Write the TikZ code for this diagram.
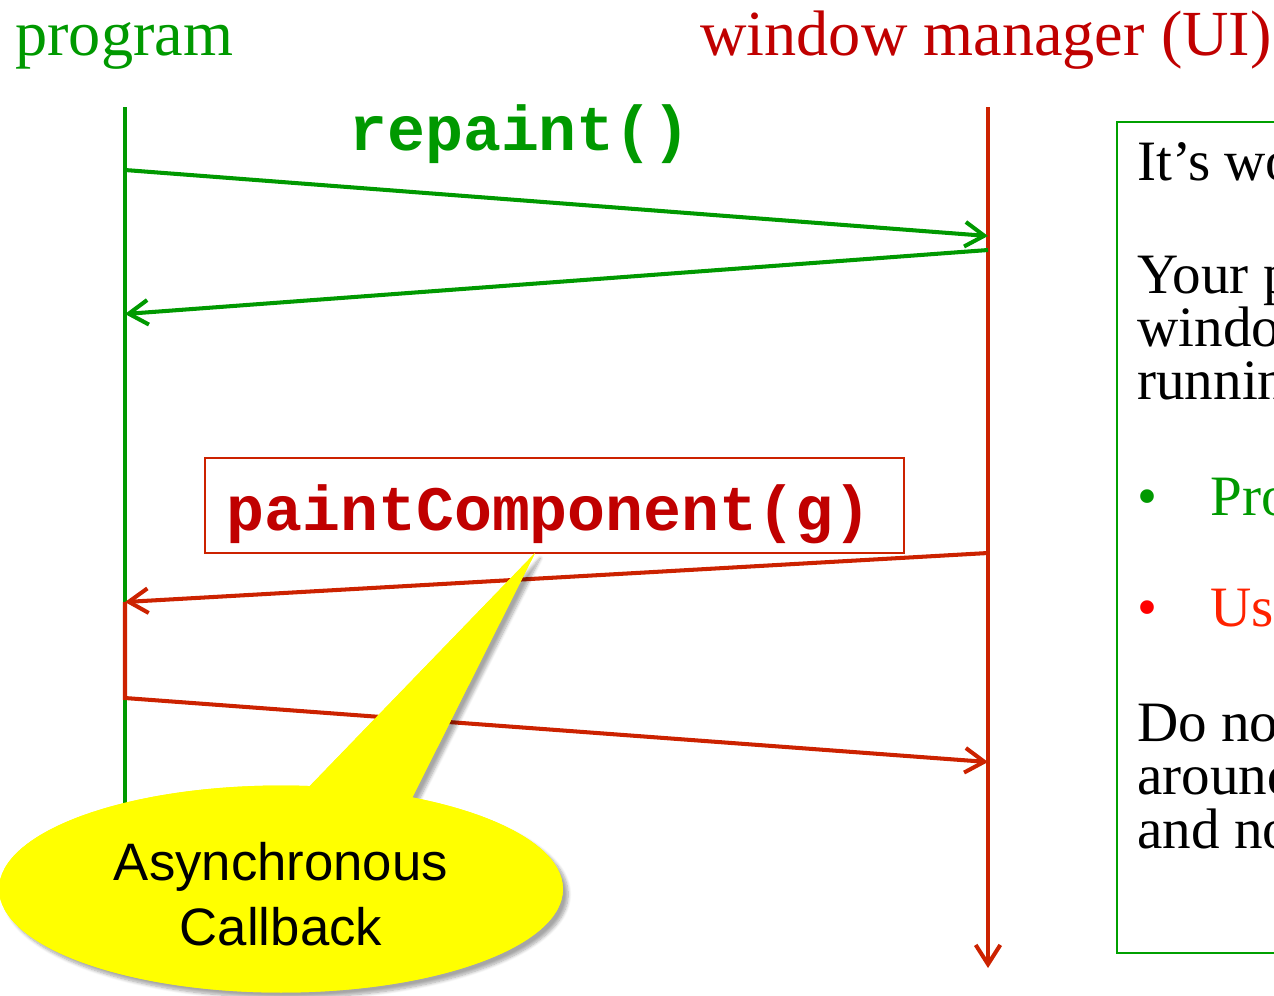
\documentclass[tikz,border=0pt]{standalone}
\usepackage{fontspec}
\setmainfont{Liberation Serif}
\setsansfont{Liberation Sans}
\setmonofont{Liberation Mono}
\usetikzlibrary{arrows.meta,shadows.blur}
\definecolor{pgreen}{HTML}{009900}
\definecolor{bgreen}{HTML}{00A000}
\definecolor{wmred}{HTML}{C00000}
\definecolor{lred}{HTML}{CC2200}
\definecolor{bred}{HTML}{FF2200}
\definecolor{cyellow}{HTML}{FFFF00}
\tikzset{
  head/.style={font=\fontsize{36.6}{40}\selectfont, inner sep=0pt},
  code/.style={font=\ttfamily\bfseries\fontsize{36}{40}\selectfont, inner sep=0pt},
  body/.style={font=\fontsize{32.5}{36}\selectfont, inner sep=0pt, anchor=base west},
  gline/.style={draw=pgreen, line width=2.3pt},
  rline/.style={draw=lred, line width=2.3pt},
  arr/.style={-{Straight Barb[length=11pt,width=14pt]}},
}
\begin{document}
\begin{tikzpicture}[x=0.02cm,y=-0.02cm]
\useasboundingbox (0,0) rectangle (1274,995);
\clip (0,0) rectangle (1274,995);
% titles
\node[head, text=pgreen, anchor=base west] (prog) at (15,55) {program};
\node[head, text=wmred, anchor=base east] (wm) at (1272,55) {window manager (UI)};
% lifelines
\coordinate (gtop) at (125,107);
\coordinate (gbot) at (125,810);
\coordinate (rtop) at (988,107);
\coordinate (rbot) at (988,968);
\draw[gline] (gtop) -- (gbot);
\draw[rline, arr] (rtop) -- (rbot);
% repaint messages
\node[code, text=pgreen, anchor=base] (rp) at (520,150) {repaint()};
\coordinate (m1a) at (125,170);
\coordinate (m1b) at (988,236);
\coordinate (m2a) at (988,250);
\coordinate (m2b) at (125,314);
\draw[gline, arr] (m1a) -- (m1b);
\draw[gline, arr] (m2a) -- (m2b);
% paintComponent box
\node[draw=lred, line width=0.9pt, minimum width=13.98cm, minimum height=1.9cm, inner sep=0pt] (pcbox) at (554.5,505.5) {};
\node[code, text=wmred, anchor=base] (pc) at (549,530) {paintComponent(g)};
\coordinate (m3a) at (988,553);
\coordinate (m3b) at (125,602);
\coordinate (m4a) at (125,698);
\coordinate (m4b) at (988,762);
\draw[rline, arr] (m3a) -- (m3b);
\draw[rline, arr] (m3b) -- (m4a) -- (m4b);
% right text box
\draw[draw=bgreen, line width=1.2pt] (1117,122) rectangle (1320,953);
\node[body] (t1) at (1137,180) {It’s worth};
\node[body] (t2) at (1137,293) {Your program};
\node[body] (t3) at (1137,346) {window};
\node[body] (t4) at (1137,399) {running};
\node[body, text=pgreen] (b1) at (1137,515) {•};
\node[body, text=pgreen] (t5) at (1210,515) {Program};
\node[body, text=red] (b2) at (1137,626) {•};
\node[body, text=bred] (t6) at (1210,626) {User};
\node[body] (t7) at (1137,741) {Do not};
\node[body] (t8) at (1137,794) {around};
\node[body] (t9) at (1137,848) {and not};
% callout
\coordinate (ptL) at (304,792);
\coordinate (ptR) at (410,802);
\coordinate (tip) at (535,553);
\path[fill=cyellow, blur shadow={shadow xshift=3pt, shadow yshift=-3pt, shadow opacity=35, shadow blur steps=8}]
  (281,889) ellipse [x radius=5.64cm, y radius=2.07cm]
  (ptL) -- (tip) -- (ptR) -- cycle;
\fill[cyellow] (ptL) -- (tip) -- (ptR) -- cycle;
\fill[cyellow] (281,889) ellipse [x radius=5.64cm, y radius=2.07cm];
\node[font=\sffamily\fontsize{30}{36.8}\selectfont, inner sep=0pt, anchor=base] (cb1) at (281,880) {Asynchronous};
\node[font=\sffamily\fontsize{30}{36.8}\selectfont, inner sep=0pt, anchor=base] (cb2) at (281,945) {Callback};
\end{tikzpicture}
\end{document}
